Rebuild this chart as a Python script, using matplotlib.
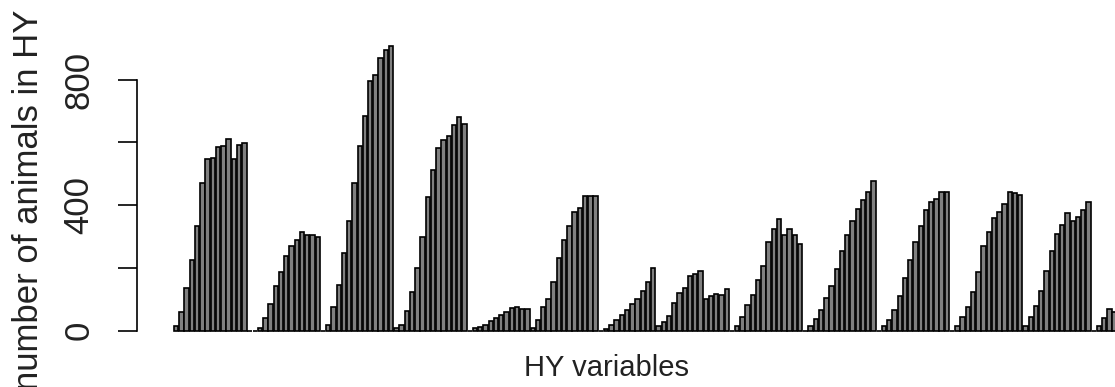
import matplotlib
matplotlib.use("Agg")
import matplotlib.pyplot as plt
import numpy as np

# Number of animals per HY variable, in order (zeros are the empty slots between groups)
g1 = [14, 58, 135, 224, 332, 472, 547, 550, 585, 589, 612, 547, 592, 598, 0, 0]
g2 = [10, 39, 86, 141, 187, 237, 269, 288, 313, 306, 304, 300, 0]
g3 = [19, 77, 146, 249, 351, 472, 587, 683, 797, 815, 868, 893, 906]
g4 = [8, 19, 62, 122, 200, 300, 425, 511, 582, 606, 619, 656, 680, 659, 0]
g5 = [8, 12, 19, 30, 40, 51, 58, 72, 75, 69, 69]
g6 = [8, 33, 74, 101, 154, 231, 288, 332, 377, 391, 428, 428, 428, 0]
g7 = [5, 19, 33, 51, 67, 86, 101, 128, 154, 200]
g8 = [14, 27, 46, 88, 120, 136, 173, 182, 189, 101, 111, 118, 115, 133, 0]
g9 = [14, 44, 83, 115, 160, 207, 281, 325, 356, 306, 325, 306, 276, 0]
g10 = [14, 37, 65, 104, 141, 196, 253, 306, 351, 387, 415, 441, 478, 0]
g11 = [14, 33, 67, 109, 168, 224, 281, 334, 383, 409, 419, 441, 441, 0]
g12 = [14, 44, 77, 122, 186, 270, 316, 359, 377, 404, 441, 438, 433]
g13 = [16, 44, 80, 128, 191, 255, 309, 338, 375, 348, 362, 383, 409, 0]
g14 = [14, 40, 69, 58]

y_ticks = [0, 200, 400, 600, 800]
y_tick_labels = ["0", "", "400", "", "800"]
x_label = "HY variables"
y_label = "number of animals in HY"

counts = g1 + g2 + g3 + g4 + g5 + g6 + g7 + g8 + g9 + g10 + g11 + g12 + g13 + g14
pos = np.arange(len(counts))

plt.rcParams["font.family"] = ["Liberation Sans", "DejaVu Sans"]

W, H = 1115, 387
fig = plt.figure(figsize=(W / 100, H / 100), dpi=100)

# axes placement in pixels
ax_left_px, ax_top_px, ax_bottom_px = 137, 35, 342
ax = fig.add_axes([ax_left_px / W, (H - ax_bottom_px) / H,
                   (W - ax_left_px) / W, (ax_bottom_px - ax_top_px) / H])

bw = 1 / 1.2
ax.bar(pos, counts, width=bw, color="#808080", edgecolor="black", linewidth=1.2)

pitch_px = 5.243
first_left_px = 174
x0 = -bw / 2 - (first_left_px - ax_left_px) / pitch_px
x1 = -bw / 2 + (W - first_left_px) / pitch_px
ax.set_xlim(x0, x1)
ax.set_ylim(-36, 942)

for s in ["top", "right", "bottom"]:
    ax.spines[s].set_visible(False)
ax.spines["left"].set_bounds(0, 800)
ax.spines["left"].set_linewidth(1.2)
ax.set_xticks([])
ax.set_yticks(y_ticks)
ax.set_yticklabels(y_tick_labels, rotation=90, va="center", fontsize=25, color="#222222")
ax.tick_params(axis="y", length=14, width=1.2, pad=16)

fig.text(607 / W, 1 - 368 / H, x_label, ha="center", va="center", fontsize=21, color="#222222")
fig.text(29 / W, 1 - 200 / H, y_label, ha="center", va="center", rotation=90, fontsize=25,
         color="#222222")

fig.savefig("out.png", dpi=100)
